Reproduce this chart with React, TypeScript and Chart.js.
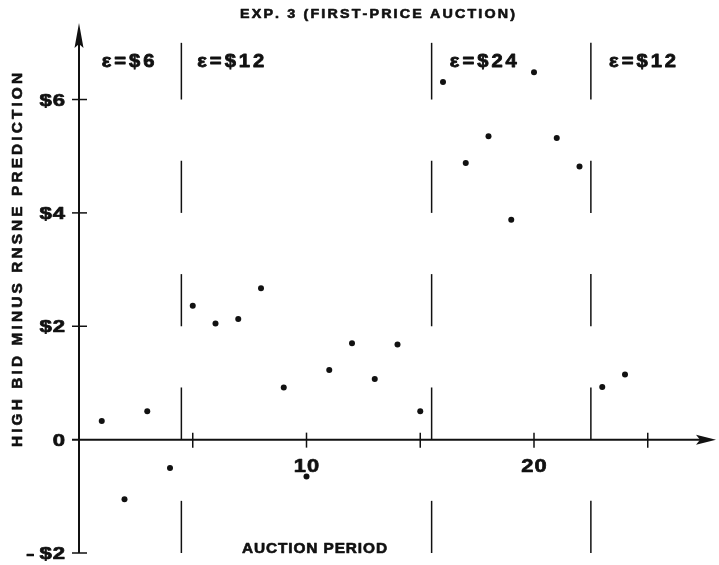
import React, { useEffect, useRef } from 'react';
import { Chart, registerables } from 'chart.js';

Chart.register(...registerables);

// ---- data ----
const periods = [1, 2, 3, 4, 5, 6, 7, 8, 9, 10, 11, 12, 13, 14, 15, 16, 17, 18, 19, 20, 21, 22, 23, 24];
const highBidMinusPrediction = [
  0.33, -1.05, 0.5, -0.5, 2.36, 2.05, 2.13, 2.67, 0.92, -0.65, 1.23, 1.7,
  1.07, 1.68, 0.5, 6.31, 4.88, 5.35, 3.88, 6.48, 5.32, 4.82, 0.93, 1.15,
];
const regimeBreaks = [4.5, 15.5, 22.5];
const regimeLabels = ['ε=$6', 'ε=$12', 'ε=$24', 'ε=$12'];
const regimeLabelStart = [1.0, 5.2, 16.3, 23.3];
const regimeLabelValue = 6.7;
const breakSegments: [number, number][] = [[-2, -1.08], [0, 0.92], [2, 2.92], [4, 4.92], [6, 7]];
const yTickValues = [-2, 2, 4, 6];
const yLabelValues = [-2, 0, 2, 4, 6];
const yLabelTexts = ['-$2', '0', '$2', '$4', '$6'];
const xTickValues = [5, 10, 15, 20, 25];
const xLabelValues = [10, 20];
const xLabelTexts = ['10', '20'];
const chartTitle = 'EXP. 3 (FIRST-PRICE AUCTION)';
const yTitle = 'HIGH BID MINUS RNSNE PREDICTION';
const xTitle = 'AUCTION PERIOD';

const FONT = '"Liberation Sans", Arial, Helvetica, sans-serif';
const INK = '#111';

function charWidth(ctx: CanvasRenderingContext2D, text: string) {
  let w = 0;
  for (const ch of Array.from(text)) w += ctx.measureText(ch).width;
  return w;
}
function spacedWidth(ctx: CanvasRenderingContext2D, text: string, spacing: number, sx = 1) {
  const n = Array.from(text).length;
  return charWidth(ctx, text) * sx + spacing * Math.max(0, n - 1);
}
function drawSpaced(
  ctx: CanvasRenderingContext2D, text: string, x: number, y: number,
  spacing: number, heavy = 0.6, sx = 1,
) {
  ctx.save();
  ctx.translate(x, y);
  ctx.scale(sx, 1);
  ctx.lineWidth = heavy;
  ctx.lineJoin = 'round';
  let cx = 0;
  for (const ch of Array.from(text)) {
    ctx.fillText(ch, cx, 0);
    if (heavy > 0) ctx.strokeText(ch, cx, 0);
    cx += ctx.measureText(ch).width + spacing / sx;
  }
  ctx.restore();
}
function fitSpacing(ctx: CanvasRenderingContext2D, text: string, target: number, sx = 1) {
  const n = Array.from(text).length;
  return (target - charWidth(ctx, text) * sx) / Math.max(1, n - 1);
}

const decorPlugin = {
  id: 'decor',
  beforeDatasetsDraw(chart: any) {
    const ctx: CanvasRenderingContext2D = chart.ctx;
    const xs = chart.scales.x;
    const ys = chart.scales.y;
    const x0 = xs.getPixelForValue(0);
    const y0 = ys.getPixelForValue(0);
    const yBottom = ys.getPixelForValue(-2);
    const yTop = ys.getPixelForValue(ys.max);
    const xRight = xs.getPixelForValue(xs.max);
    ctx.save();
    ctx.strokeStyle = INK;
    ctx.fillStyle = INK;
    ctx.lineCap = 'butt';
    // y axis
    ctx.lineWidth = 2;
    ctx.beginPath();
    ctx.moveTo(x0, yBottom);
    ctx.lineTo(x0, yTop + 10);
    ctx.stroke();
    ctx.beginPath();
    ctx.moveTo(x0, yTop);
    ctx.lineTo(x0 - 4.5, yTop + 25);
    ctx.lineTo(x0, yTop + 21);
    ctx.lineTo(x0 + 4.5, yTop + 25);
    ctx.closePath();
    ctx.fill();
    // x axis
    ctx.beginPath();
    ctx.moveTo(x0 - 7, y0);
    ctx.lineTo(xRight - 10, y0);
    ctx.stroke();
    ctx.beginPath();
    ctx.moveTo(xRight, y0);
    ctx.lineTo(xRight - 20, y0 - 5);
    ctx.lineTo(xRight - 16, y0);
    ctx.lineTo(xRight - 20, y0 + 5);
    ctx.closePath();
    ctx.fill();
    // ticks
    ctx.lineWidth = 1.5;
    for (const v of yTickValues) {
      const py = ys.getPixelForValue(v);
      ctx.beginPath();
      ctx.moveTo(x0 - 7, py);
      ctx.lineTo(x0 + 8, py);
      ctx.stroke();
    }
    for (const v of xTickValues) {
      const px = xs.getPixelForValue(v);
      ctx.beginPath();
      ctx.moveTo(px, y0 - 7);
      ctx.lineTo(px, y0 + 8);
      ctx.stroke();
    }
    // regime separators
    ctx.lineWidth = 1.5;
    for (const b of regimeBreaks) {
      const px = xs.getPixelForValue(b);
      for (const [a, c] of breakSegments) {
        ctx.beginPath();
        ctx.moveTo(px, ys.getPixelForValue(a));
        ctx.lineTo(px, ys.getPixelForValue(c));
        ctx.stroke();
      }
    }
    ctx.restore();
  },
  afterDraw(chart: any) {
    const ctx: CanvasRenderingContext2D = chart.ctx;
    const xs = chart.scales.x;
    const ys = chart.scales.y;
    const x0 = xs.getPixelForValue(0);
    const y0 = ys.getPixelForValue(0);
    ctx.save();
    ctx.fillStyle = INK;
    ctx.strokeStyle = INK;
    ctx.textBaseline = 'alphabetic';
    ctx.textAlign = 'left';
    // y tick labels (right-aligned, wide face)
    ctx.font = `bold 17px ${FONT}`;
    const SX = 1.3;
    yLabelValues.forEach((v, i) => {
      const t = yLabelTexts[i];
      const py = ys.getPixelForValue(v) + 6;
      const right = x0 - 14;
      if (t.startsWith('-')) {
        const rest = t.slice(1);
        const w = spacedWidth(ctx, rest, 1, SX);
        drawSpaced(ctx, rest, right - w, py, 1, 0.7, SX);
        const mw = ctx.measureText('-').width * 1.5;
        drawSpaced(ctx, '-', right - w - 5 - mw, py, 0, 0.7, 1.5);
      } else {
        const w = spacedWidth(ctx, t, 1, SX);
        drawSpaced(ctx, t, right - w, py, 1, 0.7, SX);
      }
    });
    // x tick labels (centered)
    ctx.font = `bold 19px ${FONT}`;
    xLabelValues.forEach((v, i) => {
      const t = xLabelTexts[i];
      const w = spacedWidth(ctx, t, 1, 1.15);
      drawSpaced(ctx, t, xs.getPixelForValue(v) - w / 2, y0 + 32, 1, 0.7, 1.15);
    });
    // regime labels
    ctx.font = `bold 18px ${FONT}`;
    regimeLabels.forEach((t, i) => {
      drawSpaced(ctx, t, xs.getPixelForValue(regimeLabelStart[i]), ys.getPixelForValue(regimeLabelValue) + 7, 3, 0.8, 1.12);
    });
    // title
    ctx.font = `bold 13px ${FONT}`;
    drawSpaced(ctx, chartTitle, 240, 18, fitSpacing(ctx, chartTitle, 275, 1.1), 0.6, 1.1);
    // x title
    ctx.font = `bold 14px ${FONT}`;
    drawSpaced(ctx, xTitle, 242, 553, fitSpacing(ctx, xTitle, 145, 1.1), 0.6, 1.1);
    // y title
    ctx.font = `bold 14px ${FONT}`;
    ctx.translate(22, 447);
    ctx.rotate(-Math.PI / 2);
    drawSpaced(ctx, yTitle, 0, 0, fitSpacing(ctx, yTitle, 374, 1.1), 0.6, 1.1);
    ctx.restore();
  },
};

export default function App() {
  const ref = useRef<HTMLCanvasElement | null>(null);
  useEffect(() => {
    if (!ref.current) return;
    const chart = new Chart(ref.current, {
      type: 'scatter',
      data: {
        datasets: [
          {
            data: periods.map((p, i) => ({ x: p, y: highBidMinusPrediction[i] })),
            backgroundColor: INK,
            borderWidth: 0,
            pointRadius: 3,
            pointHoverRadius: 3,
          },
        ],
      },
      options: {
        responsive: false,
        animation: false,
        events: [],
        layout: { padding: { left: 79, right: 0, top: 23, bottom: 12 } },
        plugins: { legend: { display: false }, tooltip: { enabled: false }, title: { display: false } },
        scales: {
          x: { type: 'linear', min: 0, max: 28, display: false },
          y: { type: 'linear', min: -2, max: 7.35, display: false },
        },
      },
      plugins: [decorPlugin],
    });
    return () => chart.destroy();
  }, []);
  return (
    <div style={{ position: 'absolute', left: 0, top: 0, width: 719, height: 565, background: '#fff' }}>
      <canvas ref={ref} width={719} height={565} style={{ display: 'block' }} />
    </div>
  );
}
